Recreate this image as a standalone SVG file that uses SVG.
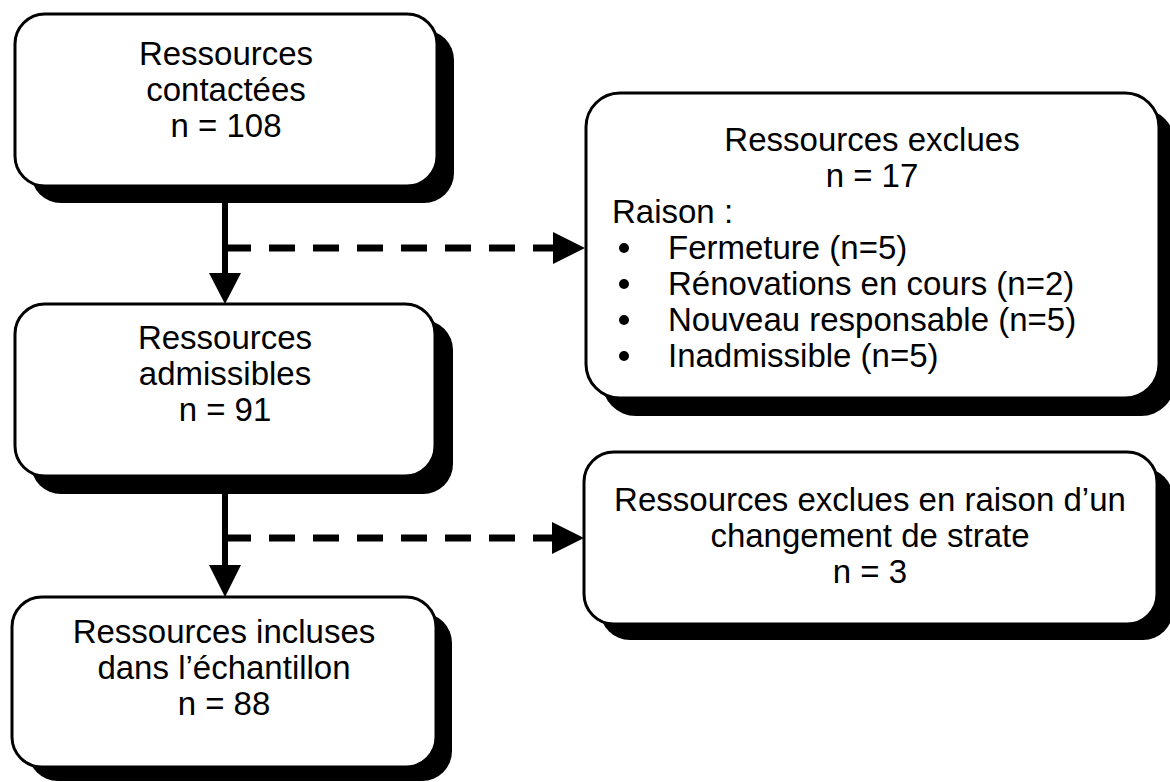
<svg xmlns="http://www.w3.org/2000/svg" width="1170" height="782" viewBox="0 0 1170 782">
<style>
.shadow{fill:#000;}
.box{fill:#fff;stroke:#000;stroke-width:3;}
text{font-family:"Liberation Sans",Arial,sans-serif;font-size:33px;fill:#000;}
.c{text-anchor:middle;}
.solid{stroke:#000;stroke-width:6;fill:none;}
.dash{stroke:#000;stroke-width:7;fill:none;stroke-dasharray:26 18;}
.head{fill:#000;}
</style>
<rect width="1170" height="782" fill="#fff"/>
<g id="node-contactees">
<rect class="shadow" x="31" y="30" width="423" height="173" rx="30"/>
<rect class="box" x="15" y="14" width="422" height="172" rx="30"/>
<text class="c" x="226" y="65">Ressources</text>
<text class="c" x="226" y="101">contactées</text>
<text class="c" x="226" y="137">n = 108</text>
</g>
<g id="node-admissibles">
<rect class="shadow" x="31" y="320" width="422" height="174" rx="30"/>
<rect class="box" x="15" y="304" width="420" height="172" rx="30"/>
<text class="c" x="225" y="349">Ressources</text>
<text class="c" x="225" y="385">admissibles</text>
<text class="c" x="225" y="421">n = 91</text>
</g>
<g id="node-incluses">
<rect class="shadow" x="28" y="613" width="424" height="168" rx="30"/>
<rect class="box" x="12" y="597" width="424" height="170" rx="30"/>
<text class="c" x="224" y="643">Ressources incluses</text>
<text class="c" x="224" y="679">dans l’échantillon</text>
<text class="c" x="224" y="715">n = 88</text>
</g>
<g id="node-exclues">
<rect class="shadow" x="602" y="109" width="573" height="307" rx="34"/>
<rect class="box" x="586" y="93" width="573" height="305" rx="34"/>
<text class="c" x="872" y="151">Ressources exclues</text>
<text class="c" x="872" y="187">n = 17</text>
<text x="612" y="223">Raison :</text>
<circle cx="624" cy="248" r="5"/>
<circle cx="624" cy="284" r="5"/>
<circle cx="624" cy="320" r="5"/>
<circle cx="624" cy="356" r="5"/>
<text x="668" y="259">Fermeture (n=5)</text>
<text x="668" y="295">Rénovations en cours (n=2)</text>
<text x="668" y="331">Nouveau responsable (n=5)</text>
<text x="668" y="367">Inadmissible (n=5)</text>
</g>
<g id="node-strate">
<rect class="shadow" x="600" y="468" width="573" height="172" rx="30"/>
<rect class="box" x="584" y="452" width="573" height="172" rx="30"/>
<text class="c" x="870" y="511">Ressources exclues en raison d’un</text>
<text class="c" x="870" y="547">changement de strate</text>
<text class="c" x="870" y="583">n = 3</text>
</g>
<g id="connectors">
<path class="solid" d="M225 200 V276"/>
<polygon class="head" points="209,273 241,273 225,304"/>
<path class="dash" d="M225 248 H556"/>
<polygon class="head" points="553,232 585,248 553,264"/>
<path class="solid" d="M225 492 V568"/>
<polygon class="head" points="209,565 241,565 225,597"/>
<path class="dash" d="M225 538 H555"/>
<polygon class="head" points="552,522 584,538 552,554"/>
</g>
</svg>
